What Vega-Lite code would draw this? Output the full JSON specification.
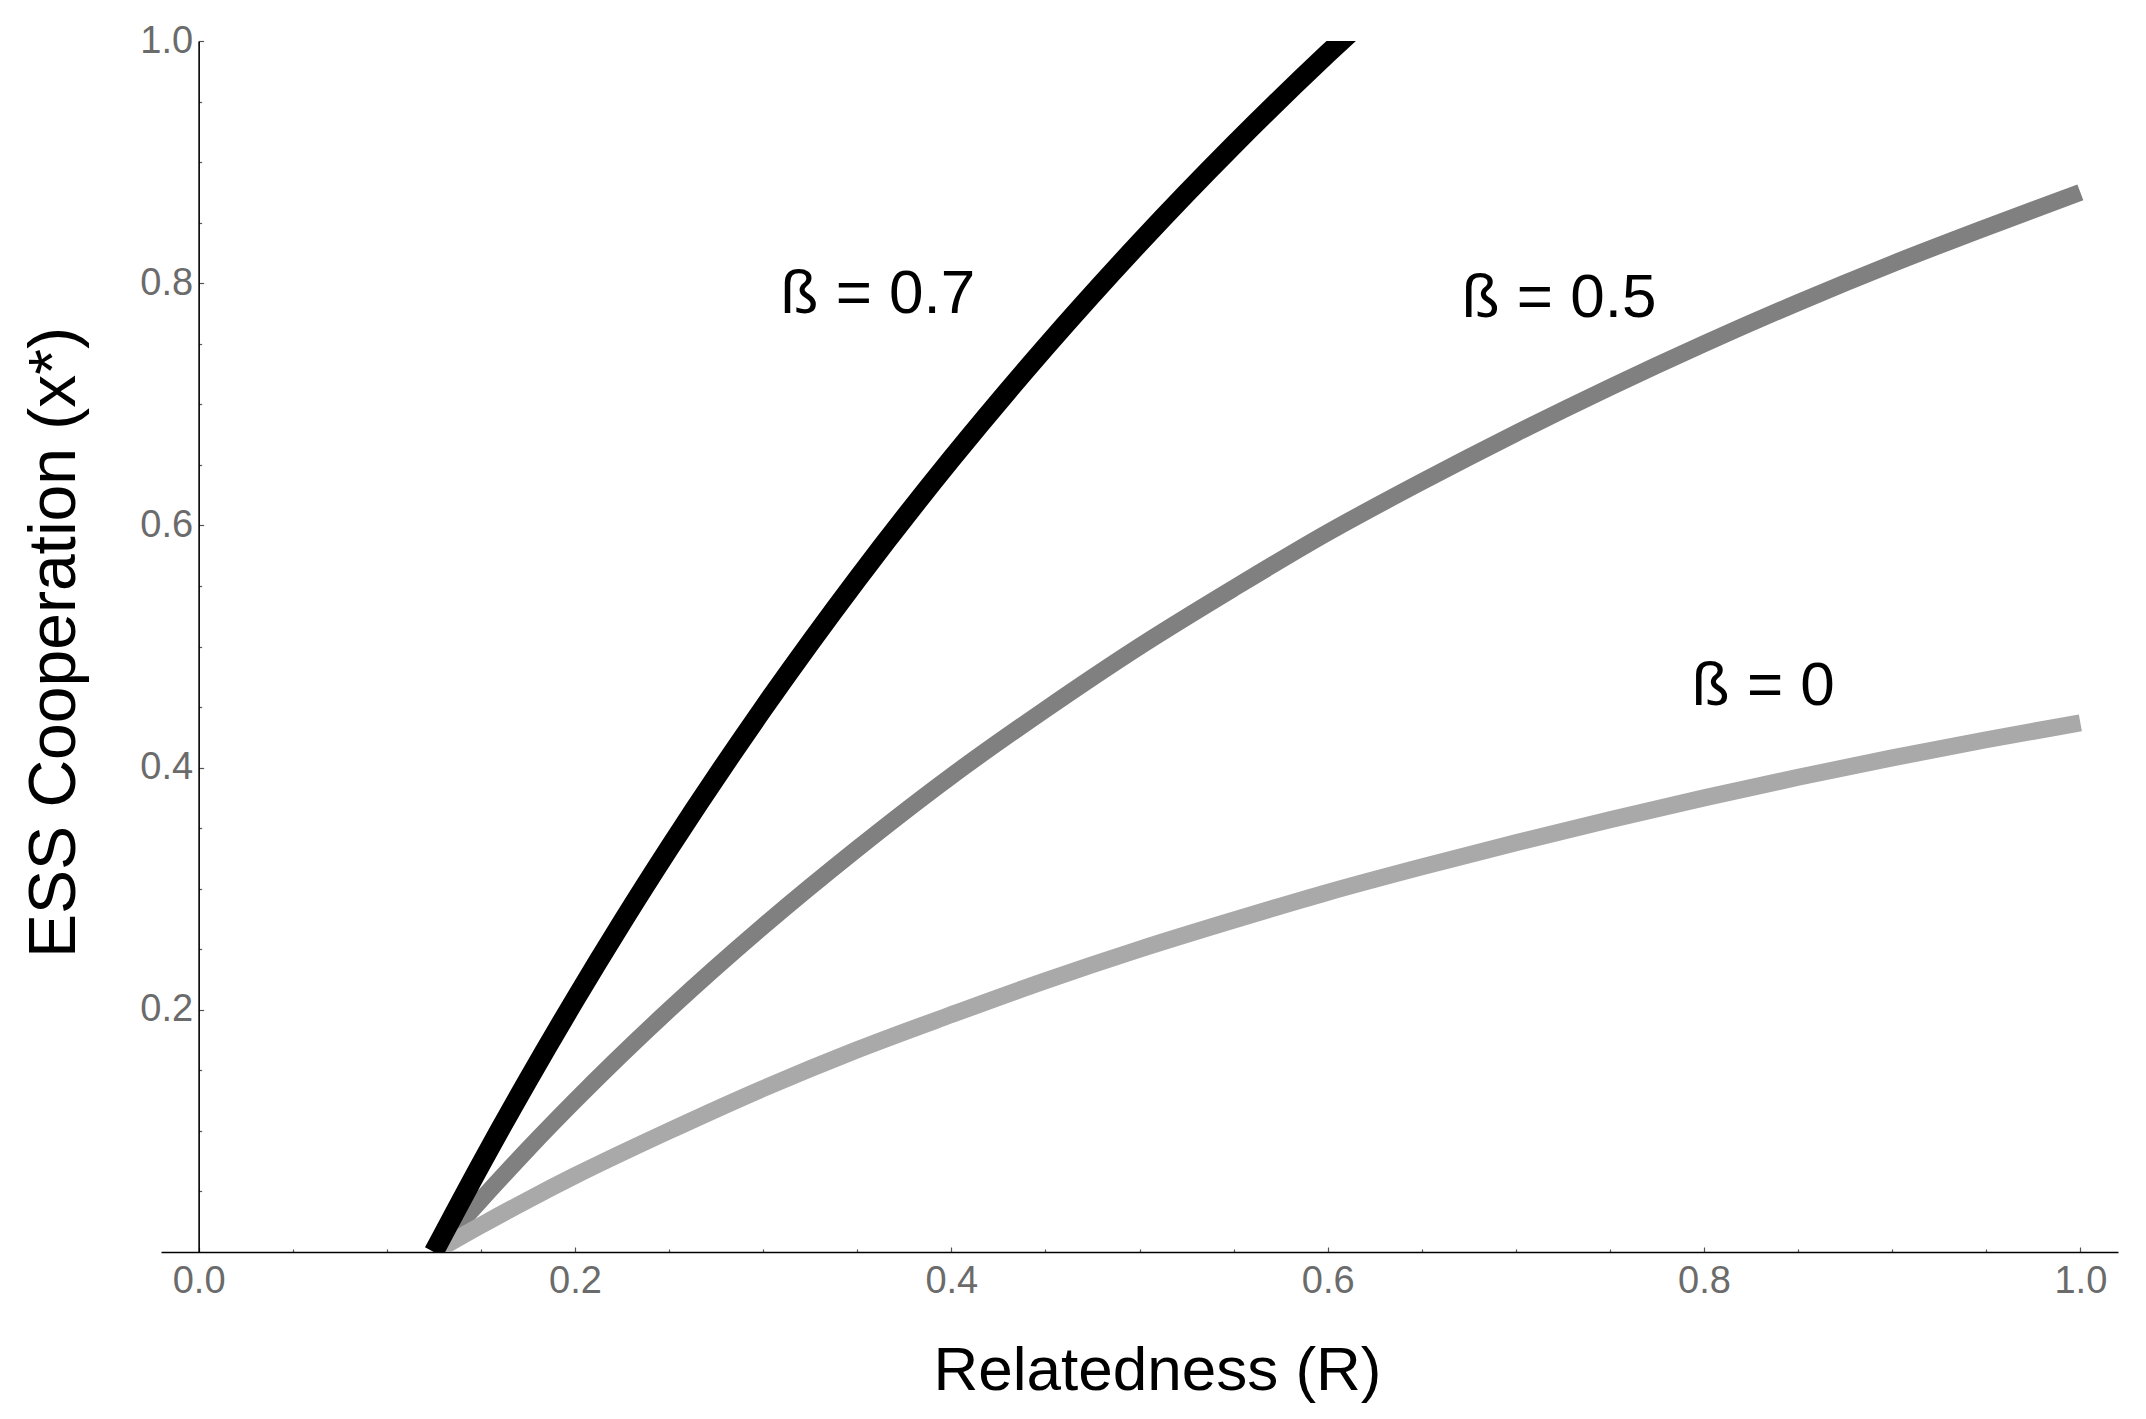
{
  "$schema": "https://vega.github.io/schema/vega-lite/v6.json",
  "width": 1957,
  "height": 1211,
  "autosize": {"type": "none"},
  "padding": {"left": 161, "top": 41, "right": 28, "bottom": 167},
  "background": "white",
  "config": {
    "view": {"stroke": null},
    "font": "'Liberation Sans', Arial, sans-serif",
    "axis": {"tickSize": -5, "grid": false}
  },
  "datasets": {
    "b05": [
      {"R": 0.125, "x": 0}, {"R": 0.15, "x": 0.043}, {"R": 0.175, "x": 0.085}, {"R": 0.2, "x": 0.125},
      {"R": 0.25, "x": 0.2}, {"R": 0.3, "x": 0.269}, {"R": 0.35, "x": 0.333}, {"R": 0.4, "x": 0.393},
      {"R": 0.45, "x": 0.448}, {"R": 0.5, "x": 0.5}, {"R": 0.55, "x": 0.548}, {"R": 0.6, "x": 0.594},
      {"R": 0.65, "x": 0.636}, {"R": 0.7, "x": 0.676}, {"R": 0.75, "x": 0.714}, {"R": 0.8, "x": 0.75},
      {"R": 0.85, "x": 0.784}, {"R": 0.9, "x": 0.816}, {"R": 0.95, "x": 0.846}, {"R": 1.0, "x": 0.875}
    ],
    "b0": [
      {"R": 0.125, "x": 0}, {"R": 0.15, "x": 0.022}, {"R": 0.175, "x": 0.043}, {"R": 0.2, "x": 0.063},
      {"R": 0.25, "x": 0.1}, {"R": 0.3, "x": 0.135}, {"R": 0.35, "x": 0.167}, {"R": 0.4, "x": 0.196},
      {"R": 0.45, "x": 0.224}, {"R": 0.5, "x": 0.25}, {"R": 0.55, "x": 0.274}, {"R": 0.6, "x": 0.297},
      {"R": 0.65, "x": 0.318}, {"R": 0.7, "x": 0.338}, {"R": 0.75, "x": 0.357}, {"R": 0.8, "x": 0.375},
      {"R": 0.85, "x": 0.392}, {"R": 0.9, "x": 0.408}, {"R": 0.95, "x": 0.423}, {"R": 1.0, "x": 0.437}
    ],
    "b07": [
      {"R": 0.125, "x": 0}, {"R": 0.15, "x": 0.0725}, {"R": 0.175, "x": 0.1418}, {"R": 0.2, "x": 0.2083},
      {"R": 0.225, "x": 0.2721}, {"R": 0.25, "x": 0.3333}, {"R": 0.3, "x": 0.4487}, {"R": 0.35, "x": 0.5556},
      {"R": 0.4, "x": 0.6548}, {"R": 0.45, "x": 0.7471}, {"R": 0.5, "x": 0.8333}, {"R": 0.55, "x": 0.914},
      {"R": 0.6, "x": 0.9896}, {"R": 0.62, "x": 1.0185}
    ],
    "labels": [
      {"label": "ß = 0.7", "R": 0.361, "x": 0.775},
      {"label": "ß = 0.5", "R": 0.723, "x": 0.772},
      {"label": "ß = 0", "R": 0.8315, "x": 0.452}
    ]
  },
  "layer": [
    {
      "data": {"name": "b05"},
      "mark": {"type": "line", "color": "#808080", "strokeWidth": 17, "clip": true, "interpolate": "monotone"},
      "encoding": {
        "x": {
          "field": "R", "type": "quantitative",
          "scale": {"domain": [-0.02, 1.02], "nice": false, "zero": false},
          "axis": {
            "orient": "bottom",
            "title": "Relatedness (R)",
            "titleFontSize": 62, "titleFont": "'Liberation Sans', Arial, sans-serif", "titleFontWeight": "normal", "titleColor": "black",
            "titleX": 996, "titleY": 137, "titleAlign": "center", "titleBaseline": "alphabetic", "titleAnchor": null,
            "values": [0, 0.05, 0.1, 0.15, 0.2, 0.25, 0.3, 0.35, 0.4, 0.45, 0.5, 0.55, 0.6, 0.65, 0.7, 0.75, 0.8, 0.85, 0.9, 0.95, 1.0],
            "labelExpr": "abs(datum.value*5 - round(datum.value*5)) < 0.001 ? format(datum.value, '.1f') : ''",
            "labelFont": "'Liberation Sans', Arial, sans-serif",
            "labelFontSize": 38, "labelColor": "#6b6b6b", "labelPadding": 15, "labelOverlap": false, "labelFlush": false, "labelBaseline": "top",
            "tickSize": {"condition": {"test": "abs(datum.value*5 - round(datum.value*5)) < 0.001", "value": -5}, "value": -3},
            "tickColor": "#555555", "tickWidth": 1.2,
            "domainColor": "black", "domainWidth": 1.6
          }
        },
        "y": {
          "field": "x", "type": "quantitative",
          "scale": {"domain": [0, 1], "nice": false, "zero": false},
          "axis": {
            "orient": "left",
            "offset": -37.63,
            "title": "ESS Cooperation (x*)",
            "titleFontSize": 66, "titleFont": "'Liberation Sans', Arial, sans-serif", "titleFontWeight": "normal", "titleColor": "black",
            "titleX": -124.6, "titleY": 601, "titleAngle": 270, "titleAlign": "center", "titleBaseline": "alphabetic", "titleAnchor": null,
            "values": [0.05, 0.1, 0.15, 0.2, 0.25, 0.3, 0.35, 0.4, 0.45, 0.5, 0.55, 0.6, 0.65, 0.7, 0.75, 0.8, 0.85, 0.9, 0.95, 1.0],
            "labelExpr": "abs(datum.value*5 - round(datum.value*5)) < 0.001 ? format(datum.value, '.1f') : ''",
            "labelFont": "'Liberation Sans', Arial, sans-serif",
            "labelFontSize": 38, "labelColor": "#6b6b6b", "labelPadding": 11, "labelOverlap": false, "labelFlush": false, "labelBaseline": "middle",
            "tickSize": {"condition": {"test": "abs(datum.value*5 - round(datum.value*5)) < 0.001", "value": -5}, "value": -3},
            "tickColor": "#555555", "tickWidth": 1.2,
            "domainColor": "black", "domainWidth": 1.6
          }
        }
      }
    },
    {
      "data": {"name": "b0"},
      "mark": {"type": "line", "color": "#a9a9a9", "strokeWidth": 17, "clip": true, "interpolate": "monotone"},
      "encoding": {
        "x": {"field": "R", "type": "quantitative"},
        "y": {"field": "x", "type": "quantitative"}
      }
    },
    {
      "data": {"name": "b07"},
      "mark": {"type": "line", "color": "black", "strokeWidth": 20, "clip": true, "interpolate": "monotone"},
      "encoding": {
        "x": {"field": "R", "type": "quantitative"},
        "y": {"field": "x", "type": "quantitative"}
      }
    },
    {
      "data": {"name": "labels"},
      "mark": {"type": "text", "fontSize": 62, "font": "'Liberation Sans', Arial, sans-serif", "color": "black", "align": "center", "baseline": "alphabetic"},
      "encoding": {
        "x": {"field": "R", "type": "quantitative"},
        "y": {"field": "x", "type": "quantitative"},
        "text": {"field": "label", "type": "nominal"}
      }
    }
  ]
}
